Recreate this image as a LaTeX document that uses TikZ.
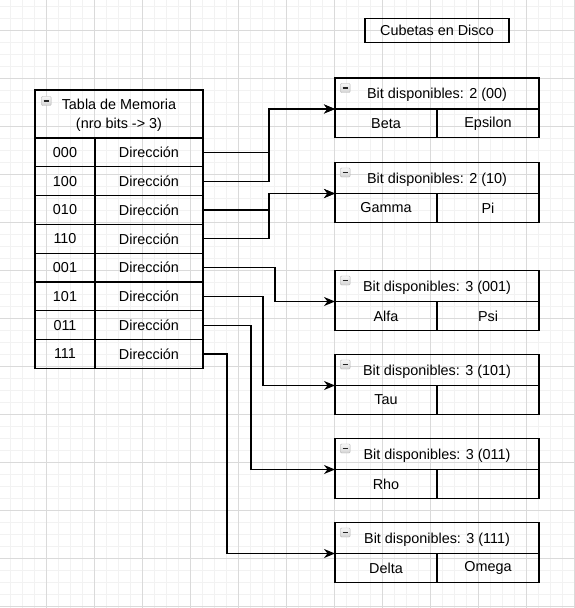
\documentclass[tikz,border=0pt]{standalone}
\usepackage{fontspec}
\setmainfont{Liberation Sans}
\usepackage{tikz}
\usetikzlibrary{arrows.meta}

\definecolor{rejilla}{RGB}{218,218,218}
\definecolor{rejillafina}{RGB}{242,242,242}

\begin{document}
\begin{tikzpicture}[x=1bp, y=-1bp,
  every node/.style={font=\fontsize{14.4bp}{17bp}\selectfont, inner sep=0pt, outer sep=0pt},
  celda/.style={draw, line width=1.2bp, minimum height=28.8bp, anchor=north west},
  cabecera/.style={draw, line width=1.2bp, anchor=north west, align=center, text depth=0pt, font=\fontsize{14.4bp}{19bp}\selectfont},
  icono/.style={draw=gray!60, top color=gray!5, bottom color=gray!35, minimum width=9.6bp, minimum height=9bp, anchor=north west, rounded corners=1bp,
    path picture={\draw[black!85, line width=1.6bp] ([xshift=2bp]path picture bounding box.west) -- ([xshift=-2bp]path picture bounding box.east);}},
  flecha/.style={line width=1.2bp, -{Stealth[length=11bp, width=9bp, inset=3.5bp]}}]
  \useasboundingbox (0,0) rectangle (575,608);

  % Grid
  \fill[white] (0,0) rectangle (575,608);
  \foreach \x in {10.7,22.7,...,575} \draw[rejillafina, line width=0.8bp] (\x,0) -- (\x,608);
  \foreach \y in {6,18,...,608} \draw[rejillafina, line width=0.8bp] (0,\y) -- (575,\y);
  \foreach \x in {46.7,94.7,...,575} \draw[rejilla, line width=0.8bp] (\x,0) -- (\x,608);
  \foreach \y in {30,78,...,608} \draw[rejilla, line width=0.8bp] (0,\y) -- (575,\y);

  % Title
  \node[draw, line width=1.2bp, minimum width=144bp, minimum height=24bp] (titulo) at (437,30.3) {Cubetas en Disco};

  % Tabla de Memoria
  \node[cabecera, minimum width=168bp, minimum height=48bp] (tabla) at (35,90) {Tabla de Memoria\\(nro bits -> 3)};
  \node[icono] (ic0) at (41.5,96.5) {};

  \node[celda, minimum width=60bp] (k000) at (35,138) {000};
  \node[celda, minimum width=108bp] (dir000) at (95,138) {Dirección};
  \node[celda, minimum width=60bp] (k100) at (35,166.8) {100};
  \node[celda, minimum width=108bp] (dir100) at (95,166.8) {Dirección};
  \node[celda, minimum width=60bp] (k010) at (35,195.6) {010};
  \node[celda, minimum width=108bp] (dir010) at (95,195.6) {Dirección};
  \node[celda, minimum width=60bp] (k110) at (35,224.4) {110};
  \node[celda, minimum width=108bp] (dir110) at (95,224.4) {Dirección};
  \node[celda, minimum width=60bp] (k001) at (35,253.2) {001};
  \node[celda, minimum width=108bp] (dir001) at (95,253.2) {Dirección};
  \node[celda, minimum width=60bp] (k101) at (35,282) {101};
  \node[celda, minimum width=108bp] (dir101) at (95,282) {Dirección};
  \node[celda, minimum width=60bp] (k011) at (35,310.8) {011};
  \node[celda, minimum width=108bp] (dir011) at (95,310.8) {Dirección};
  \node[celda, minimum width=60bp] (k111) at (35,339.6) {111};
  \node[celda, minimum width=108bp] (dir111) at (95,339.6) {Dirección};

  % Cubetas
  \node[cabecera, minimum width=204bp, minimum height=31bp] (cab1) at (335,78) {Bit disponibles: 2 (00)};
  \node[icono] (ic1) at (340.5,83.5) {};
  \node[celda, minimum width=102bp] (c1a) at (335,109) {Beta};
  \node[celda, minimum width=102bp] (c1b) at (437,109) {Epsilon};

  \node[cabecera, minimum width=204bp, minimum height=31bp] (cab2) at (335,162.5) {Bit disponibles: 2 (10)};
  \node[icono] (ic2) at (340.5,168) {};
  \node[celda, minimum width=102bp] (c2a) at (335,193.5) {Gamma};
  \node[celda, minimum width=102bp] (c2b) at (437,193.5) {Pi};

  \node[cabecera, minimum width=204bp, minimum height=31bp] (cab3) at (335,270.5) {Bit disponibles: 3 (001)};
  \node[icono] (ic3) at (340.5,276) {};
  \node[celda, minimum width=102bp] (c3a) at (335,301.5) {Alfa};
  \node[celda, minimum width=102bp] (c3b) at (437,301.5) {Psi};

  \node[cabecera, minimum width=204bp, minimum height=31bp] (cab4) at (335,354.5) {Bit disponibles: 3 (101)};
  \node[icono] (ic4) at (340.5,360) {};
  \node[celda, minimum width=102bp] (c4a) at (335,385.5) {Tau};
  \node[celda, minimum width=102bp] (c4b) at (437,385.5) {};

  \node[cabecera, minimum width=204bp, minimum height=31bp] (cab5) at (335,438.5) {Bit disponibles: 3 (011)};
  \node[icono] (ic5) at (340.5,444) {};
  \node[celda, minimum width=102bp] (c5a) at (335,469.5) {Rho};
  \node[celda, minimum width=102bp] (c5b) at (437,469.5) {};

  \node[cabecera, minimum width=204bp, minimum height=31bp] (cab6) at (335,522.5) {Bit disponibles: 3 (111)};
  \node[icono] (ic6) at (340.5,528) {};
  \node[celda, minimum width=102bp] (c6a) at (335,553.5) {Delta};
  \node[celda, minimum width=102bp] (c6b) at (437,553.5) {Omega};

  % Arrows
  \draw[flecha] (dir000.east) -- ++(66,0) |- (cab1.south west);
  \draw[flecha] (dir100.east) -- ++(66,0) |- (cab1.south west);
  \draw[flecha] (dir010.east) -- ++(66,0) |- (cab2.south west);
  \draw[flecha] (dir110.east) -- ++(66,0) |- (cab2.south west);
  \draw[flecha] (dir001.east) -- ++(72,0) |- (cab3.south west);
  \draw[flecha] (dir101.east) -- ++(60,0) |- (cab4.south west);
  \draw[flecha] (dir011.east) -- ++(48,0) |- (cab5.south west);
  \draw[flecha] (dir111.east) -- ++(24,0) |- (cab6.south west);
\end{tikzpicture}
\end{document}
